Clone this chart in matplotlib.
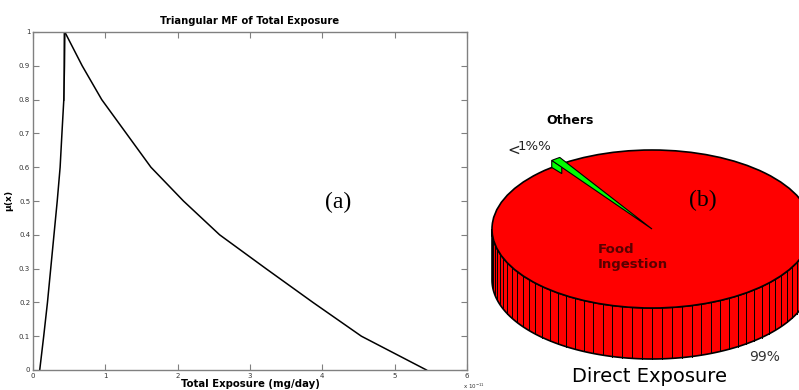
import numpy as np
import matplotlib
matplotlib.use('Agg')
import matplotlib.pyplot as plt
from matplotlib.patches import Polygon, Ellipse

# membership function (alpha cuts)
mu = [0, 0.1, 0.2, 0.3, 0.4, 0.5, 0.6, 0.7, 0.8, 0.9, 1.0]
x_left = [0.093, 0.148, 0.20, 0.245, 0.29, 0.335, 0.375, 0.40, 0.426, 0.435, 0.44]
x_right = [5.44, 4.54, 3.87, 3.22, 2.58, 2.08, 1.63, 1.29, 0.95, 0.68, 0.44]
xticks = [0, 1, 2, 3, 4, 5, 6]
yticks = [0, 0.1, 0.2, 0.3, 0.4, 0.5, 0.6, 0.7, 0.8, 0.9, 1]
ytick_labels = ['0', '0.1', '0.2', '0.3', '0.4', '0.5', '0.6', '0.7', '0.8', '0.9', '1']

# pie shares
pie_labels = ['Food\nIngestion', 'Others']
pie_values = [99, 1]
others_mid_angle = 127.0

fig = plt.figure(figsize=(7.99, 3.9), dpi=100)

# overlay in pixel coords for the 3d pie
pa = fig.add_axes([0, 0, 1, 1])
pa.set_xlim(0, 799)
pa.set_ylim(390, 0)
pa.axis('off')

cx, cy, a, b, depth = 652, 229, 160, 79, 51
red = '#ff0000'
green = '#00ff00'


def pt(th, dy=0.0, r=1.0):
    t = np.radians(th)
    return cx + r * a * np.cos(t), cy - r * b * np.sin(t) + dy


# side of the cylinder (front half)
th = np.linspace(180, 360, 200)
top = [pt(t) for t in th]
bot = [pt(t, depth) for t in th[::-1]]
pa.add_patch(Polygon(top + bot, closed=True, fc=red, ec='black', lw=1.2, zorder=1))
for t in np.arange(180, 361, 3.6):
    x0, y0 = pt(t)
    pa.plot([x0, x0], [y0, y0 + depth], color='black', lw=0.7, zorder=2)

# top face
pa.add_patch(Ellipse((cx, cy), 2 * a, 2 * b, fc=red, ec='black', lw=1.2, zorder=3))

# others wedge, slightly raised
span = 360.0 * pie_values[1] / sum(pie_values)
t1, t2 = others_mid_angle - span / 2, others_mid_angle + span / 2
lift = 7
arc = [pt(t, -lift) for t in np.linspace(t1, t2, 10)]
face = [pt(t2, -lift), pt(t2, -lift, 0.9), pt(t2, 0, 0.9), pt(t2, 0)]
pa.add_patch(Polygon(face, closed=True, fc=green, ec='black', lw=0.8, zorder=4))
pa.add_patch(Polygon([(cx, cy)] + arc, closed=True, fc=green, ec='black', lw=0.8, zorder=5))

pa.text(546, 120, pie_labels[1], fontsize=9, fontweight='bold', family='Arial',
        ha='left', va='center', zorder=6)
pa.text(507, 150, '<', fontsize=11, ha='left', va='center', color='#222222', zorder=6)
pa.text(518, 146, '1%%', fontsize=9.5, ha='left', va='center', color='#222222', zorder=6)
pa.text(598, 257, pie_labels[0], fontsize=9.5, fontweight='bold', color='#5a0000',
        ha='left', va='center', linespacing=1.25, family='Arial', zorder=6)
pa.text(749, 357, '%d%%' % pie_values[0], fontsize=10, color='#333333', ha='left', va='center', zorder=6)
pa.text(650, 376, 'Direct Exposure', fontsize=14, ha='center', va='center', family='Arial', zorder=6)
pa.text(703, 200, '(b)', fontsize=17, family='Liberation Serif', ha='center', va='center', zorder=6)

# left panel: triangular MF
ax = fig.add_axes([33 / 799, 20 / 390, 434 / 799, 338 / 390])
ax.plot(x_left, mu, color='black', lw=1.1)
ax.plot(x_right, mu, color='black', lw=1.1)
ax.plot([0.43, 0.43], [0.8, 1.0], color='#888888', lw=1.4, zorder=1)
ax.set_xlim(0, 6)
ax.set_ylim(0, 1)
ax.set_xticks(xticks)
ax.set_yticks(yticks)
ax.set_yticklabels(ytick_labels)
ax.tick_params(direction='in', length=4, width=0.8, color='#808080', labelsize=5,
               labelcolor='#333333', top=True, right=True, pad=2)
for s in ax.spines.values():
    s.set_color('#808080')
    s.set_linewidth(1.0)
ax.set_title('Triangular MF of Total Exposure', fontsize=7.2, fontweight='bold', family='Arial', pad=6)
ax.set_xlabel('Total Exposure (mg/day)', fontsize=7.3, fontweight='bold', family='Arial', labelpad=0.5)
ax.set_ylabel(r'$\mathbf{\mu(x)}$', fontsize=6.5)
ax.yaxis.set_label_coords(-0.04, 0.5)
ax.text(0.99, -0.035, r'x 10$^{-11}$', transform=ax.transAxes, fontsize=4, color='#333333',
        ha='left', va='top')
fig.text(338 / 799, 1 - 202 / 390, '(a)', fontsize=17, family='Liberation Serif', ha='center', va='center')

fig.savefig('out.png', dpi=100)
